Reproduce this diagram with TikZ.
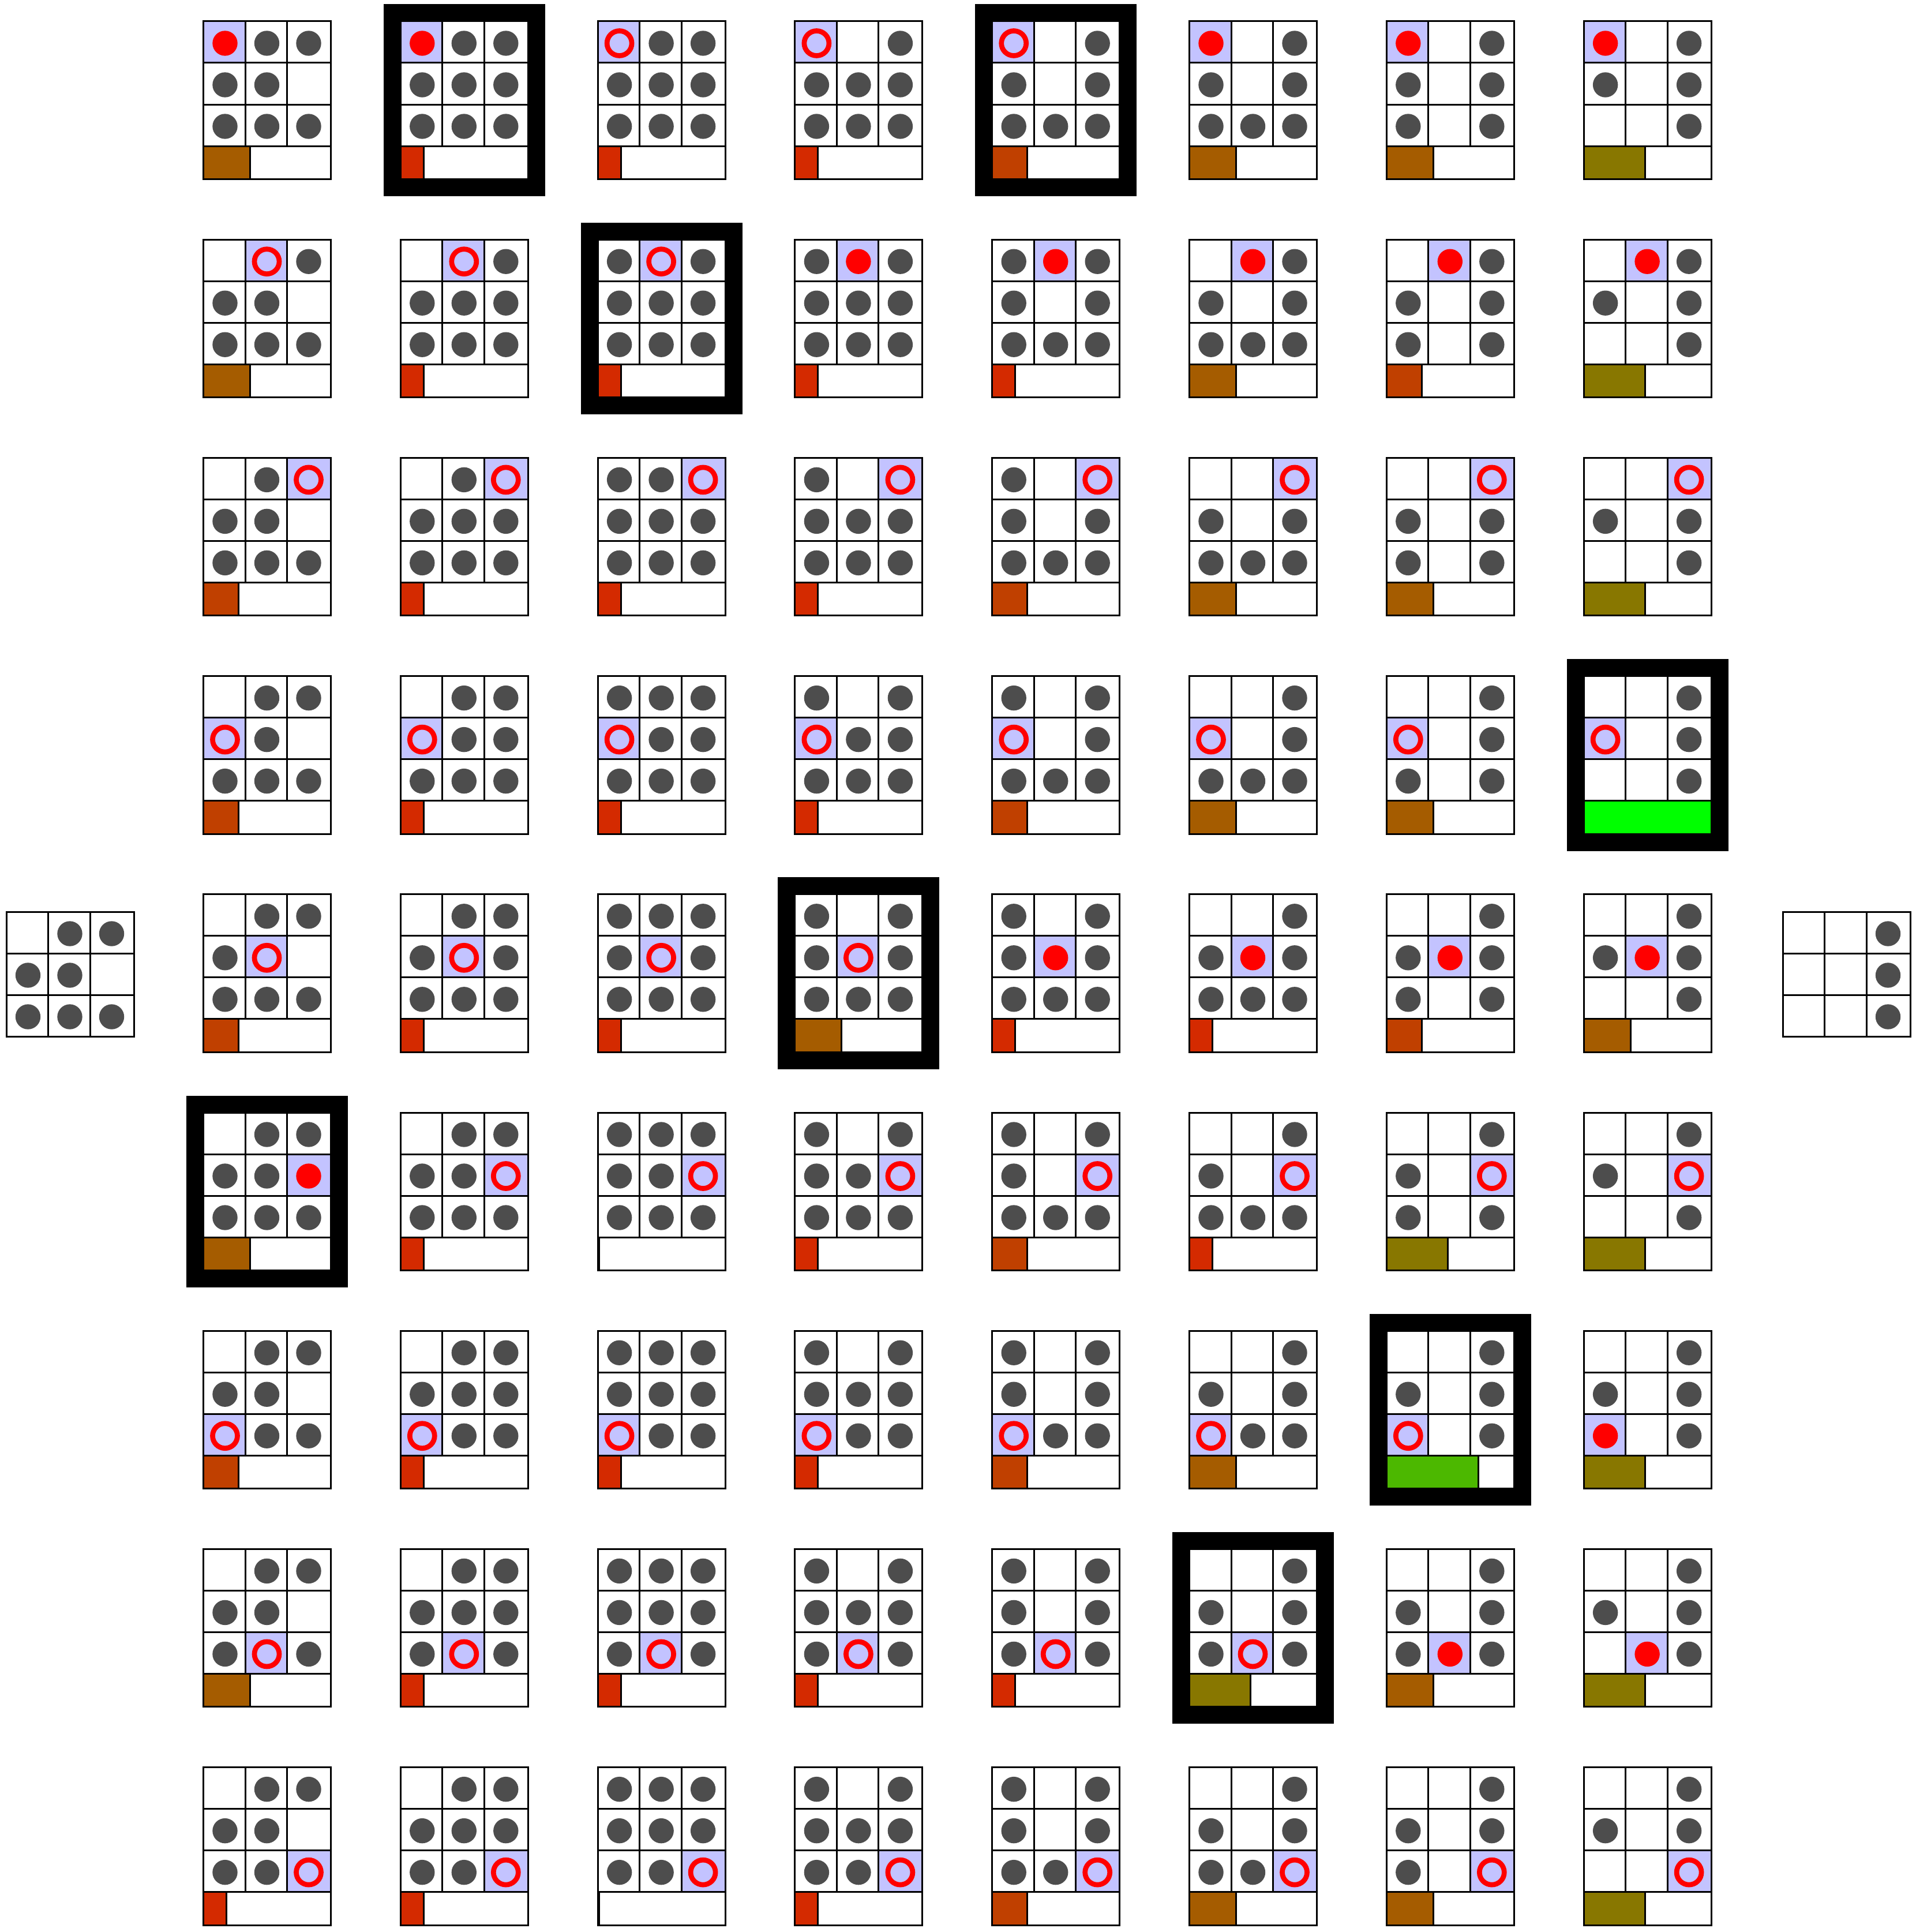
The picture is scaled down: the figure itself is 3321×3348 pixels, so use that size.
\documentclass[tikz,border=0pt]{standalone}
\definecolor{hl}{RGB}{195,195,255}
\definecolor{peg}{RGB}{77,77,77}
\definecolor{bz}{RGB}{150,20,0}
\definecolor{br}{RGB}{212,42,0}
\definecolor{bo}{RGB}{192,64,0}
\definecolor{bb}{RGB}{165,92,0}
\definecolor{bl}{RGB}{136,119,0}
\definecolor{bg}{RGB}{76,184,0}
\definecolor{bf}{RGB}{0,255,0}
\tikzset{
 gl/.style={line width=3pt,draw=black},
 pegring/.style={draw=red,line width=8.7pt},
 bestframe/.style={draw=black,line width=31pt},
}
\def\bdA{0,1,1,1,1,0,1,1,1}
\def\bdB{0,1,1,1,1,1,1,1,1}
\def\bdC{1,1,1,1,1,1,1,1,1}
\def\bdD{1,0,1,1,1,1,1,1,1}
\def\bdE{1,0,1,1,0,1,1,1,1}
\def\bdF{0,0,1,1,0,1,1,1,1}
\def\bdG{0,0,1,1,0,1,1,0,1}
\def\bdH{0,0,1,1,0,1,0,0,1}
\def\bdR{0,0,1,0,0,1,0,0,1}
\def\barA{3,3,2,2,2,3,2,3,1}
\def\barB{1,1,1,1,1,1,1,1,1}
\def\barC{1,1,1,1,1,0,1,1,0}
\def\barD{1,1,1,1,3,1,1,1,1}
\def\barE{2,1,2,2,1,2,2,1,2}
\def\barF{3,3,3,3,1,1,3,4,3}
\def\barG{3,2,3,3,2,4,5,3,3}
\def\barH{4,4,4,6,3,4,4,4,4}
\newcommand\diag[5]{%
 \begin{scope}[shift={(#1,#2)}]
  \ifnum#4>-1\relax
   \pgfmathtruncatemacro\hk{mod(#4,3)}%
   \pgfmathtruncatemacro\hj{div(#4,3)}%
   \pgfmathsetmacro\hxa{72.5*\hk}%
   \pgfmathsetmacro\hxb{\hk==2 ? 221 : 72.5*(\hk+1)}%
   \fill[hl] (\hxa,72*\hj) rectangle (\hxb,72*\hj+72);
  \fi
  \ifnum#5>-1\relax
   \ifcase#5\relax \def\bcol{bz}\def\bwid{2}\or \def\bcol{br}\def\bwid{40}\or \def\bcol{bo}\def\bwid{61}\or \def\bcol{bb}\def\bwid{81}\or \def\bcol{bl}\def\bwid{106}\or \def\bcol{bg}\def\bwid{159}\or \def\bcol{bf}\def\bwid{221}\fi
   \fill[\bcol] (0,216) rectangle (\bwid,273.5);
   \draw[gl] (\bwid,216) -- (\bwid,273.5);
   \draw[gl] (0,0) rectangle (221,273.5);
  \else
   \draw[gl] (0,0) rectangle (221,216);
  \fi
  \draw[gl] (72.5,0) -- (72.5,216) (145,0) -- (145,216) (0,72) -- (221,72) (0,144) -- (221,144) (0,216) -- (221,216);
  \foreach \v [count=\i from 0] in #3 {%
   \pgfmathtruncatemacro\ck{mod(\i,3)}%
   \pgfmathtruncatemacro\cj{div(\i,3)}%
   \ifnum\i=#4\relax
     \ifnum\v=1\relax \draw[pegring] (37.5+72.5*\ck,38+72*\cj) circle (21.5pt);
     \else \fill[red] (37.5+72.5*\ck,38+72*\cj) circle (21.7pt);\fi
   \else
     \ifnum\v=1\relax \fill[peg] (37.5+72.5*\ck,38+72*\cj) circle (21.7pt);\fi
   \fi
  }%
 \end{scope}}
\begin{document}
\begin{tikzpicture}[x=1pt,y=-1pt]
\useasboundingbox (0,0) rectangle (3321,3348);
\fill[white] (0,0) rectangle (3321,3348);
\foreach \c/\bd/\bars/\fr in {0/\bdA/\barA/5,1/\bdB/\barB/0,2/\bdC/\barC/1,3/\bdD/\barD/4,4/\bdE/\barE/0,5/\bdF/\barF/7,6/\bdG/\barG/6,7/\bdH/\barH/3}{
  \edef\curbd{\bd}\edef\curbars{\bars}
  \pgfmathsetmacro\cx{352.5+341.8*\c}
  \foreach \bv [count=\r from 0] in \curbars {
    \pgfmathsetmacro\ry{37+378.2*\r}
    \diag{\cx}{\ry}{\curbd}{\r}{\bv}
    \ifnum\r=\fr\relax
      \draw[bestframe] (\cx-14,\ry-14) rectangle (\cx+235,\ry+287.5);
    \fi
  }
}
\diag{11}{1580}{\bdA}{-1}{-1}
\diag{3090}{1580}{\bdR}{-1}{-1}
\end{tikzpicture}
\end{document}
